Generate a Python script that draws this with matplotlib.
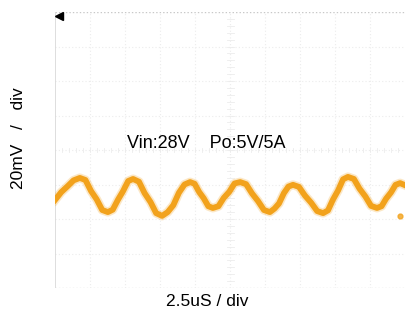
import matplotlib
matplotlib.use("Agg")
import matplotlib.pyplot as plt

plt.rcParams['font.family'] = ['Liberation Sans', 'DejaVu Sans']

# scope trace, in divisions (10 x 8 grid, centre = 0,0)
trace_x = [0.00, 0.18, 0.36, 0.53, 0.71,
           0.87, 1.03, 1.19, 1.35, 1.51,
           1.65, 1.80, 1.94, 2.09, 2.23,
           2.40, 2.56, 2.73, 2.89, 3.06,
           3.22, 3.38, 3.54, 3.70, 3.86,
           3.99, 4.12, 4.25, 4.38, 4.51,
           4.67, 4.82, 4.98, 5.13, 5.29,
           5.46, 5.63, 5.80, 5.97, 6.14,
           6.27, 6.40, 6.54, 6.67, 6.80,
           6.97, 7.14, 7.32, 7.49, 7.66,
           7.80, 7.94, 8.09, 8.23, 8.37,
           8.54, 8.70, 8.87, 9.03, 9.20,
           9.33, 9.46, 9.60, 9.73, 9.86, 10.0]
trace_y = [-1.45, -1.22, -1.05, -0.88, -0.81,
           -0.87, -1.19, -1.43, -1.74, -1.80,
           -1.73, -1.44, -1.20, -0.90, -0.84,
           -0.92, -1.25, -1.51, -1.83, -1.91,
           -1.80, -1.60, -1.24, -1.00, -0.93,
           -0.98, -1.22, -1.40, -1.63, -1.68,
           -1.63, -1.39, -1.21, -0.97, -0.93,
           -0.99, -1.26, -1.48, -1.74, -1.80,
           -1.70, -1.55, -1.25, -1.06, -1.01,
           -1.07, -1.32, -1.53, -1.77, -1.83,
           -1.75, -1.44, -1.17, -0.85, -0.78,
           -0.84, -1.12, -1.35, -1.62, -1.68,
           -1.63, -1.41, -1.23, -1.01, -0.96, -1.02]

trigger_mark = (0.12, 3.87)
ground_mark = (9.86, -1.92)

label_text = "Vin:28V    Po:5V/5A"
x_label = "2.5uS / div"
y_label = "20mV   /   div"

orange = '#f2a21c'
grid_col = '#ececec'

fig = plt.figure(figsize=(4.05, 3.14), dpi=100)
ax = fig.add_axes([55 / 405, 26 / 314, 350 / 405, 276 / 314])
ax.set_xlim(0, 10)
ax.set_ylim(-4, 4)
ax.set_xticks([])
ax.set_yticks([])
for s in ax.spines.values():
    s.set_visible(False)

# graticule (very faint on the capture)
for gx in range(1, 10):
    ax.axvline(gx, color=grid_col, lw=0.8, ls=(0, (1, 2)), zorder=1)
for gy in range(-3, 4):
    ax.axhline(gy, color=grid_col, lw=0.8, ls=(0, (1, 2)), zorder=1)
ax.axhline(4, color='#c8c8c8', lw=1.0, ls=(0, (1, 1.5)), zorder=1)
ax.axhline(-4, color='#dadada', lw=1.0, ls=(0, (1, 1.5)), zorder=1)
ax.axvline(0, color='#d8d8d8', lw=1.2, zorder=1)

# small ticks on the centre lines
for k in range(1, 50):
    t = k * 0.2
    ax.plot([t, t], [-0.06, 0.06], color=grid_col, lw=0.6, zorder=1)
for k in range(-19, 20):
    t = k * 0.2
    ax.plot([4.9, 5.1], [t, t], color=grid_col, lw=0.6, zorder=1)

# trace: soft halo + core line for the noisy look
ax.plot(trace_x, trace_y, color=orange, lw=6.5, alpha=0.25, zorder=3)
ax.plot(trace_x, trace_y, color=orange, lw=4.2, zorder=4)

ax.plot(*trigger_mark, marker='<', color='black', ms=6, zorder=5, clip_on=False)
ax.plot(*ground_mark, marker='o', color=orange, ms=3.5, alpha=0.8, zorder=5)

fig.text(206 / 405, 1 - 143 / 314, label_text, fontsize=13, ha='center', va='center')
fig.text(207 / 405, 1 - 301 / 314, x_label, fontsize=12.5, ha='center', va='center')
fig.text(19 / 405, 1 - 138 / 314, y_label, fontsize=12.5, ha='center', va='center',
         rotation=90)

fig.savefig('out.png', dpi=100)
